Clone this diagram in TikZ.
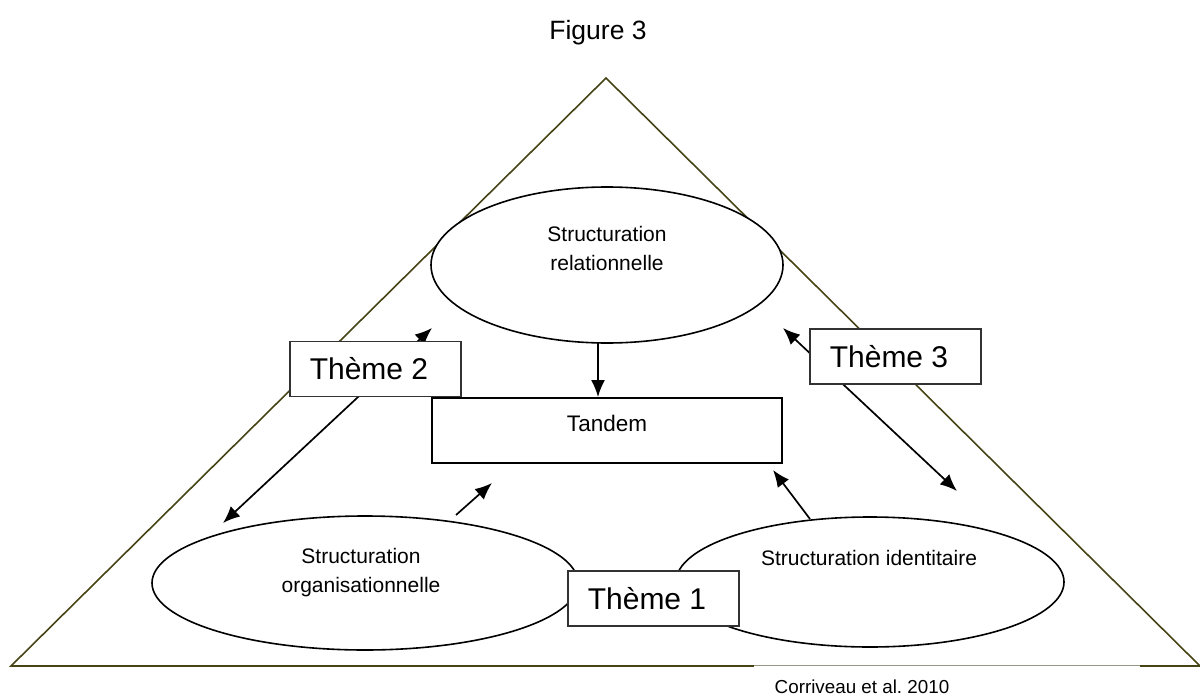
\documentclass[tikz,border=0pt]{standalone}
\usepackage{fontspec}
\setmainfont{Liberation Sans}
\usetikzlibrary{shapes.geometric,arrows.meta}
\definecolor{olivetri}{RGB}{70,68,22}
\definecolor{boxgray}{RGB}{50,50,50}
\definecolor{citegray}{RGB}{150,150,130}
\tikzset{
  ell/.style={ellipse, draw=black, line width=1.6pt, fill=white, inner sep=0pt},
  lbl/.style={align=center, font=\fontsize{21}{29}\selectfont, inner sep=0pt},
  themebox/.style={draw=boxgray, line width=1.2pt, fill=white, minimum width=171pt, minimum height=55pt, inner sep=0pt},
  themetxt/.style={font=\fontsize{30}{32}\selectfont, inner sep=0pt},
  arr/.style={line width=1.7pt, -{Latex[length=17pt,width=14pt]}},
  darr/.style={line width=1.7pt, {Latex[length=17pt,width=14pt]}-{Latex[length=17pt,width=14pt]}}
}
\begin{document}
\frenchspacing
\begin{tikzpicture}[x=1pt,y=-1pt]
\useasboundingbox (0,0) rectangle (1200,696);
\node[font=\fontsize{26.5}{28}\selectfont, inner sep=0pt] (title) at (598,33) {Figure 3};
\coordinate (apex) at (606,78);
\coordinate (bl) at (11,666);
\coordinate (br) at (1200,666);
\draw[olivetri, line width=1.6pt, line join=miter] (bl) -- (apex) -- (br) -- cycle;
\fill[white] (754,664.5) rectangle (1140,696);
\draw[citegray, line width=0.8pt] (754,665) -- (1140,665);
\node[font=\fontsize{18.8}{20}\selectfont, inner sep=0pt] (cite) at (862,686.5) {Corriveau et al.\ 2010};
\node[ell, minimum width=352pt, minimum height=156pt] (rel) at (607,265) {};
\node[lbl] (reltxt) at (607,248.5) {Structuration\\relationnelle};
\node[ell, minimum width=426pt, minimum height=134pt] (org) at (365,583) {};
\node[lbl] (orgtxt) at (361,572.5) {Structuration\\organisationnelle};
\node[ell, minimum width=388pt, minimum height=130pt] (ide) at (870,582) {};
\node[lbl] (idetxt) at (869,558) {Structuration identitaire};
\node[draw=black, line width=1.5pt, fill=white, minimum width=350pt, minimum height=65pt, inner sep=0pt] (tandem) at (607,430.5) {};
\node[lbl, font=\fontsize{22.5}{29}\selectfont] (tandemtxt) at (607,423) {Tandem};
\coordinate (relout) at (598,343);
\coordinate (tandin) at (598,397);
\coordinate (t2a) at (223,523);
\coordinate (t2b) at (432,328);
\coordinate (t3a) at (783,328);
\coordinate (t3b) at (957,491);
\coordinate (orgout) at (456,515);
\coordinate (orgtip) at (492,483);
\coordinate (ideout) at (810,519);
\coordinate (idetip) at (773,470);
\draw[arr] (relout) -- (tandin);
\draw[darr] (t2a) -- (t2b);
\draw[darr] (t3a) -- (t3b);
\draw[arr] (orgout) -- (orgtip);
\draw[arr] (ideout) -- (idetip);
\node[themebox] (th2) at (375.5,369) {};
\node[themetxt] at (369,369) {Thème 2};
\node[themebox] (th3) at (895.5,356.5) {};
\node[themetxt] at (889,356.5) {Thème 3};
\node[themebox] (th1) at (653.5,598.5) {};
\node[themetxt] at (647,598.5) {Thème 1};
\end{tikzpicture}
\end{document}
